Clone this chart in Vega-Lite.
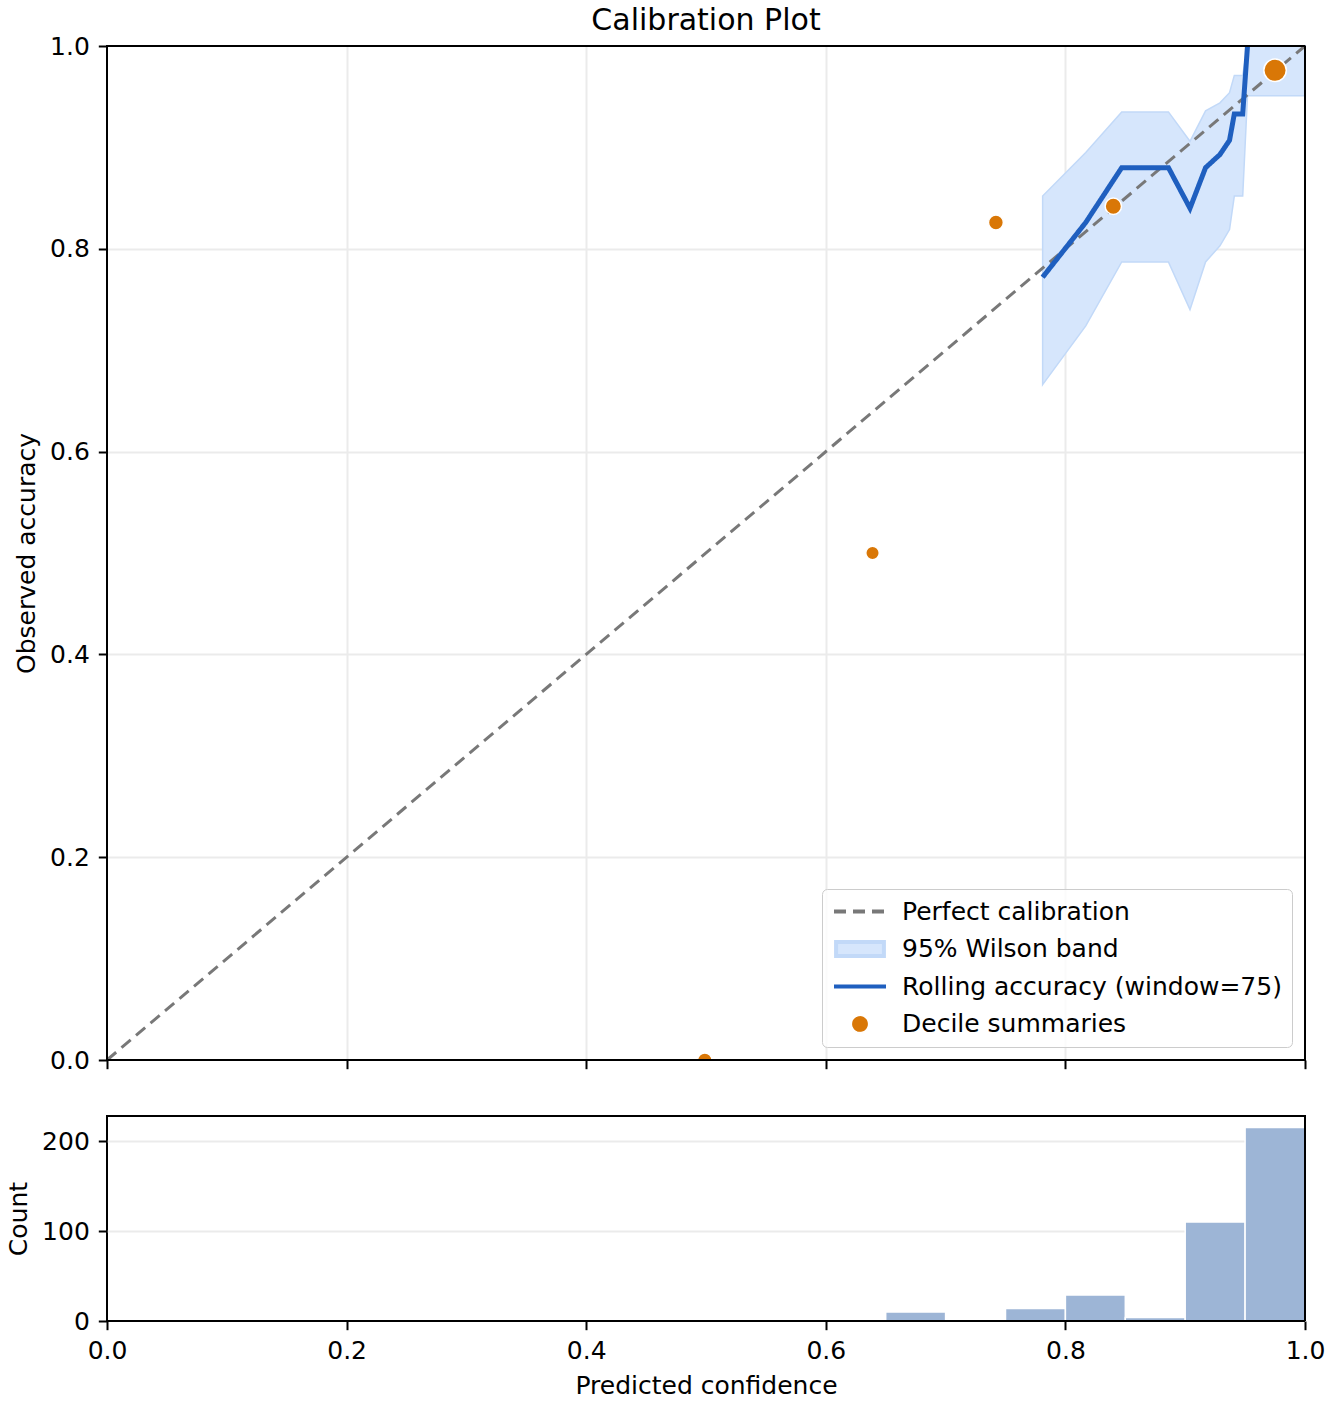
{
  "$schema": "https://vega.github.io/schema/vega-lite/v6.json",
  "description": "Calibration plot: rolling accuracy with Wilson band, decile summaries and a confidence histogram.",
  "padding": {"left": 5, "top": 5, "right": 10, "bottom": 10},
  "bounds": "flush",
  "spacing": 56,
  "resolve": {
    "scale": {"shape": "independent", "size": "independent", "fill": "independent", "stroke": "independent", "strokeDash": "independent"},
    "legend": {"shape": "independent", "size": "independent", "fill": "independent", "stroke": "independent", "strokeDash": "independent"}
  },
  "datasets": {
    "rolling": [
      {"conf": 0.781, "acc": 0.772, "lo": 0.666, "hi": 0.852},
      {"conf": 0.817, "acc": 0.826, "lo": 0.724, "hi": 0.895},
      {"conf": 0.847, "acc": 0.880, "lo": 0.787, "hi": 0.935},
      {"conf": 0.886, "acc": 0.880, "lo": 0.787, "hi": 0.935},
      {"conf": 0.904, "acc": 0.840, "lo": 0.740, "hi": 0.906},
      {"conf": 0.917, "acc": 0.880, "lo": 0.787, "hi": 0.936},
      {"conf": 0.929, "acc": 0.893, "lo": 0.803, "hi": 0.944},
      {"conf": 0.937, "acc": 0.907, "lo": 0.819, "hi": 0.954},
      {"conf": 0.941, "acc": 0.933, "lo": 0.852, "hi": 0.971},
      {"conf": 0.948, "acc": 0.933, "lo": 0.852, "hi": 0.971},
      {"conf": 0.952, "acc": 1.0, "lo": 0.951, "hi": 1.0},
      {"conf": 1.0, "acc": null, "lo": 0.951, "hi": 1.0}
    ],
    "diagonal": [
      {"conf": 0, "acc": 0},
      {"conf": 1, "acc": 1}
    ],
    "deciles": [
      {"conf": 0.499, "acc": 0.0, "n": 6},
      {"conf": 0.639, "acc": 0.5, "n": 2},
      {"conf": 0.742, "acc": 0.826, "n": 12},
      {"conf": 0.840, "acc": 0.842, "n": 34},
      {"conf": 0.975, "acc": 0.976, "n": 327}
    ],
    "hist": [
      {"bin_start": 0.65, "bin_end": 0.70, "count": 10},
      {"bin_start": 0.75, "bin_end": 0.80, "count": 14},
      {"bin_start": 0.80, "bin_end": 0.85, "count": 29},
      {"bin_start": 0.85, "bin_end": 0.90, "count": 4},
      {"bin_start": 0.90, "bin_end": 0.95, "count": 110},
      {"bin_start": 0.95, "bin_end": 1.00, "count": 215}
    ]
  },
  "vconcat": [
    {
      "width": 1198,
      "height": 1014,
      "title": {
        "text": "Calibration Plot",
        "frame": "group",
        "anchor": "middle",
        "baseline": "alphabetic",
        "offset": -26,
        "fontSize": 30,
        "fontWeight": "normal",
        "font": "DejaVu Sans",
        "color": "black"
      },
      "layer": [
        {
          "data": {"name": "rolling"},
          "mark": {"type": "area", "strokeWidth": 1.5, "opacity": 1},
          "encoding": {
            "x": {
              "field": "conf",
              "type": "quantitative",
              "scale": {"domain": [0, 1], "nice": false, "zero": false},
              "axis": {
                "values": [0, 0.2, 0.4, 0.6, 0.8, 1],
                "labels": false,
                "title": null,
                "gridOpacity": {"condition": {"test": "datum.value === 0 || datum.value === 1", "value": 0}, "value": 1}
              }
            },
            "y": {
              "field": "lo",
              "type": "quantitative",
              "scale": {"domain": [0, 1], "nice": false, "zero": false},
              "axis": {
                "values": [0, 0.2, 0.4, 0.6, 0.8, 1],
                "format": ".1f",
                "title": "Observed accuracy",
                "gridOpacity": {"condition": {"test": "datum.value === 0 || datum.value === 1", "value": 0}, "value": 1}
              }
            },
            "y2": {"field": "hi"},
            "fill": {
              "datum": "95% Wilson band",
              "scale": {
                "domain": ["Perfect calibration", "95% Wilson band", "Rolling accuracy (window=75)", "Decile summaries"],
                "range": ["transparent", "#d6e6fc", "transparent", "#d97706"]
              },
              "legend": {"title": null}
            },
            "stroke": {
              "datum": "95% Wilson band",
              "scale": {
                "domain": ["Perfect calibration", "95% Wilson band", "Rolling accuracy (window=75)", "Decile summaries"],
                "range": ["#787878", "#c2d9f8", "#1f5fbf", "white"]
              },
              "legend": {"title": null}
            }
          }
        },
        {
          "data": {"name": "diagonal"},
          "mark": {"type": "line", "strokeWidth": 3},
          "encoding": {
            "x": {"field": "conf", "type": "quantitative"},
            "y": {"field": "acc", "type": "quantitative"},
            "stroke": {"datum": "Perfect calibration"},
            "strokeDash": {
              "datum": "Perfect calibration",
              "scale": {
                "domain": ["Perfect calibration", "95% Wilson band", "Rolling accuracy (window=75)", "Decile summaries"],
                "range": [[12, 7], [1, 0], [1, 0], [1, 0]]
              },
              "legend": {"title": null}
            }
          }
        },
        {
          "data": {"name": "rolling"},
          "mark": {"type": "line", "strokeWidth": 5, "clip": true},
          "encoding": {
            "x": {"field": "conf", "type": "quantitative"},
            "y": {"field": "acc", "type": "quantitative"},
            "stroke": {"datum": "Rolling accuracy (window=75)"},
            "strokeDash": {"datum": "Rolling accuracy (window=75)"}
          }
        },
        {
          "data": {"name": "deciles"},
          "mark": {"type": "point", "filled": true, "strokeWidth": 1.5, "opacity": 1, "clip": true},
          "encoding": {
            "x": {"field": "conf", "type": "quantitative"},
            "y": {"field": "acc", "type": "quantitative"},
            "size": {
              "field": "n",
              "type": "quantitative",
              "scale": {"type": "sqrt", "domain": [0, 330], "range": [1072, 3518]},
              "legend": null
            },
            "fill": {"datum": "Decile summaries"},
            "stroke": {"datum": "Decile summaries"},
            "shape": {
              "datum": "Decile summaries",
              "scale": {
                "domain": ["Perfect calibration", "95% Wilson band", "Rolling accuracy (window=75)", "Decile summaries"],
                "range": ["stroke", "M-0.92,-0.27H0.92V0.27H-0.92Z", "stroke", "M-0.38,0A0.38,0.38 0 1,0 0.38,0A0.38,0.38 0 1,0 -0.38,0Z"]
              },
              "legend": {"title": null}
            }
          }
        },
        {
          "data": {"values": [{}]},
          "mark": {"type": "rule", "color": "black", "strokeWidth": 2},
          "encoding": {"y": {"datum": 0}}
        },
        {
          "data": {"values": [{}]},
          "mark": {"type": "rule", "color": "black", "strokeWidth": 2},
          "encoding": {"y": {"datum": 1}}
        },
        {
          "data": {"values": [{}]},
          "mark": {"type": "rule", "color": "black", "strokeWidth": 2},
          "encoding": {"x": {"datum": 0}}
        },
        {
          "data": {"values": [{}]},
          "mark": {"type": "rule", "color": "black", "strokeWidth": 2},
          "encoding": {"x": {"datum": 1}}
        }
      ]
    },
    {
      "width": 1198,
      "height": 205,
      "layer": [
        {
          "data": {"name": "hist"},
          "mark": {"type": "rect", "color": "#9db5d6", "stroke": "white", "strokeWidth": 1.5},
          "encoding": {
            "x": {
              "field": "bin_start",
              "type": "quantitative",
              "scale": {"domain": [0, 1], "nice": false, "zero": false},
              "axis": {"values": [0, 0.2, 0.4, 0.6, 0.8, 1], "format": ".1f", "grid": false, "title": "Predicted confidence"}
            },
            "x2": {"field": "bin_end"},
            "y": {
              "field": "count",
              "type": "quantitative",
              "scale": {"domain": [0, 227.8], "nice": false},
              "axis": {
                "values": [0, 100, 200],
                "title": "Count",
                "gridOpacity": {"condition": {"test": "datum.value === 0", "value": 0}, "value": 1}
              }
            },
            "y2": {"datum": 0}
          }
        },
        {
          "data": {"values": [{}]},
          "mark": {"type": "rule", "color": "black", "strokeWidth": 2},
          "encoding": {"y": {"datum": 0}}
        },
        {
          "data": {"values": [{}]},
          "mark": {"type": "rule", "color": "black", "strokeWidth": 2},
          "encoding": {"x": {"datum": 1}}
        }
      ]
    }
  ],
  "config": {
    "view": {"stroke": "black", "strokeWidth": 2},
    "axis": {
      "domain": false,
      "grid": true,
      "gridColor": "#ebebeb",
      "gridWidth": 2,
      "tickColor": "black",
      "tickSize": 8.7,
      "tickWidth": 2,
      "labelFont": "DejaVu Sans",
      "labelFontSize": 25,
      "labelColor": "black",
      "labelPadding": 9,
      "labelFlush": false,
      "labelOverlap": false,
      "titleFont": "DejaVu Sans",
      "titleFontSize": 25,
      "titleFontWeight": "normal",
      "titleColor": "black",
      "titlePadding": 10
    },
    "legend": {
      "orient": "bottom-right",
      "offset": 13,
      "padding": 10,
      "cornerRadius": 5,
      "strokeColor": "#cccccc",
      "fillColor": "rgba(255,255,255,0.8)",
      "labelFont": "DejaVu Sans",
      "labelFontSize": 25,
      "labelColor": "black",
      "labelLimit": 600,
      "labelOffset": 14,
      "rowPadding": 11.5,
      "clipHeight": 25,
      "symbolSize": 2704,
      "symbolStrokeWidth": 4,
      "symbolOpacity": 1
    }
  }
}
